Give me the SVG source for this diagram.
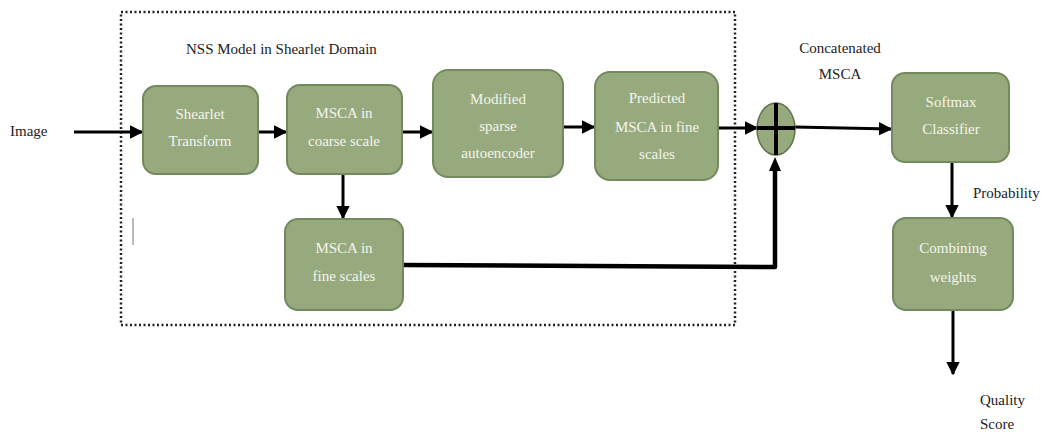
<svg xmlns="http://www.w3.org/2000/svg" width="1042" height="432" viewBox="0 0 1042 432">
  <style>
    .box { fill: #97aa7e; stroke: #728a5c; stroke-width: 2; }
    .inner { font-size: 15px; fill: #f4f4ec; text-anchor: middle; }
    .label { font-size: 15px; fill: #222; }
    .edge { stroke: #000; stroke-width: 3; fill: none; }
    .thick { stroke: #000; stroke-width: 4.5; fill: none; stroke-linejoin: round; }
  </style>
  <defs>
    <marker id="arrow" viewBox="0 0 10 10" refX="9" refY="5" markerWidth="4.5" markerHeight="4.5" orient="auto" markerUnits="strokeWidth">
      <path d="M0,0 L10,5 L0,10 z" fill="#000"/>
    </marker>
  </defs>
  <rect width="1042" height="432" fill="#fff"/>

  <g font-family="'Liberation Serif', 'DejaVu Serif', 'Times New Roman', serif">
  <!-- dotted frame of the shearlet-domain model -->
  <rect x="121" y="12" width="614" height="313" fill="none" stroke="#222" stroke-width="2.5" stroke-dasharray="2 2.5"/>
  <line x1="133" y1="218" x2="133" y2="245" stroke="#777" stroke-width="1"/>

  <!-- free labels -->
  <text class="label" x="10" y="136">Image</text>
  <text class="label" x="186" y="54">NSS Model in Shearlet Domain</text>
  <text class="label" x="840" y="53" text-anchor="middle">Concatenated</text>
  <text class="label" x="840" y="79" text-anchor="middle">MSCA</text>
  <text class="label" x="973" y="198">Probability</text>
  <text class="label" x="980" y="405">Quality</text>
  <text class="label" x="980" y="429">Score</text>

  <!-- connectors -->
  <g id="connectors">
    <line class="edge" x1="74" y1="132" x2="142" y2="132" marker-end="url(#arrow)"/>
    <line class="edge" x1="258" y1="132" x2="286" y2="132" marker-end="url(#arrow)"/>
    <line class="edge" x1="402" y1="132" x2="432" y2="132" marker-end="url(#arrow)"/>
    <line class="edge" x1="563" y1="127" x2="594" y2="127" marker-end="url(#arrow)"/>
    <line class="edge" x1="718" y1="128" x2="757" y2="128" marker-end="url(#arrow)"/>
    <line class="edge" x1="795" y1="127" x2="891" y2="129" marker-end="url(#arrow)"/>
    <line class="edge" x1="343" y1="174" x2="343" y2="218" marker-end="url(#arrow)"/>
    <path class="thick" d="M403,265 L775,267 L775,170"/>
    <path d="M769,171 L775,157 L781,171 z" fill="#000"/>
    <line class="edge" x1="952" y1="162" x2="952" y2="217" marker-end="url(#arrow)"/>
    <line class="edge" x1="953" y1="310" x2="953" y2="374" marker-end="url(#arrow)"/>
  </g>

  <!-- nodes -->
  <g id="shearlet">
    <rect class="box" x="143" y="86" width="115" height="88" rx="13"/>
    <text class="inner" x="200" y="119">Shearlet</text>
    <text class="inner" x="200" y="146">Transform</text>
  </g>
  <g id="msca-coarse">
    <rect class="box" x="287" y="85" width="115" height="89" rx="13"/>
    <text class="inner" x="344" y="118">MSCA in</text>
    <text class="inner" x="344" y="146">coarse scale</text>
  </g>
  <g id="autoencoder">
    <rect class="box" x="433" y="70" width="130" height="107" rx="15"/>
    <text class="inner" x="498" y="104">Modified</text>
    <text class="inner" x="498" y="131">sparse</text>
    <text class="inner" x="498" y="158">autoencoder</text>
  </g>
  <g id="predicted">
    <rect class="box" x="595" y="72" width="123" height="108" rx="15"/>
    <text class="inner" x="657" y="103">Predicted</text>
    <text class="inner" x="657" y="132">MSCA in fine</text>
    <text class="inner" x="657" y="159">scales</text>
  </g>
  <g id="msca-fine">
    <rect class="box" x="285" y="219" width="118" height="91" rx="13"/>
    <text class="inner" x="344" y="253">MSCA in</text>
    <text class="inner" x="344" y="281">fine scales</text>
  </g>
  <g id="concat">
    <ellipse cx="776" cy="129" rx="19" ry="26" fill="#97aa7e" stroke="#5e7048" stroke-width="1.5"/>
    <line x1="776" y1="103" x2="776" y2="155" stroke="#000" stroke-width="4"/>
    <line x1="757" y1="128" x2="795" y2="128" stroke="#000" stroke-width="4"/>
  </g>
  <g id="softmax">
    <rect class="box" x="892" y="73" width="117" height="89" rx="13"/>
    <text class="inner" x="951" y="107">Softmax</text>
    <text class="inner" x="951" y="134">Classifier</text>
  </g>
  <g id="combining">
    <rect class="box" x="893" y="218" width="120" height="92" rx="13"/>
    <text class="inner" x="953" y="253">Combining</text>
    <text class="inner" x="953" y="282">weights</text>
  </g>
  </g>
</svg>
